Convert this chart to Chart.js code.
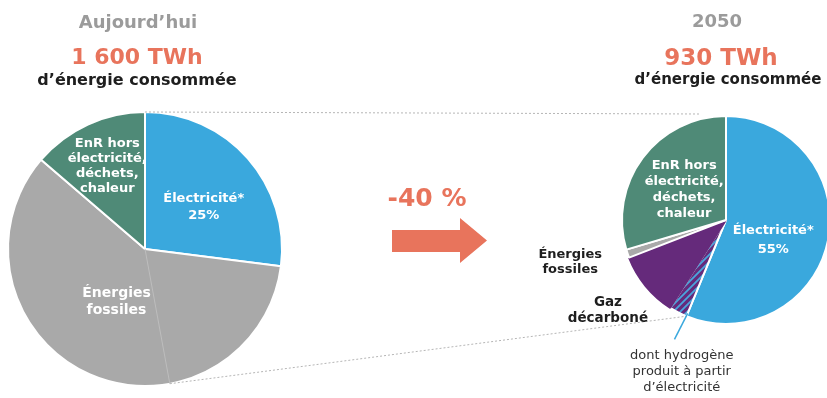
<!DOCTYPE html>
<html><head><meta charset="utf-8">
<script src="https://cdn.jsdelivr.net/npm/chart.js@4.4.1/dist/chart.umd.min.js"></script>
<style>
html,body{margin:0;padding:0;background:#fff;overflow:hidden;}
#wrap{position:relative;width:827px;height:398px;overflow:hidden;font-family:"DejaVu Sans",Verdana,sans-serif;}
canvas{position:absolute;}
.t{position:absolute;transform:translate(-50%,-50%);white-space:nowrap;text-align:center;font-weight:bold;line-height:1.15;}
</style></head><body>
<div id="wrap">
<canvas id="cL" width="290" height="290" style="left:0;top:104px"></canvas>
<canvas id="cR" width="220" height="220" style="left:616px;top:110px"></canvas>
<canvas id="over" width="827" height="398" style="left:0;top:0;pointer-events:none"></canvas>
<div class="t" id="tL1" style="left:138px;top:22px;font-size:18px;color:#9b9b9b">Aujourd’hui</div>
<div class="t" id="tL2" style="left:137px;top:57px;font-size:22px;color:#e8745c">1 600 TWh</div>
<div class="t" id="tL3" style="left:137px;top:80px;font-size:16px;color:#1e1e1e">d’énergie consommée</div>
<div class="t" id="tR1" style="left:717px;top:21px;font-size:18px;color:#9b9b9b">2050</div>
<div class="t" id="tR2" style="left:721px;top:57px;font-size:23px;color:#e8745c">930 TWh</div>
<div class="t" id="tR3" style="left:728px;top:80px;font-size:15px;color:#1e1e1e">d’énergie consommée</div>
<div class="t" id="chg" style="left:427px;top:198px;font-size:25px;color:#e8745c">-40 %</div>
</div>
<script>
// ---- data ----
const periods = ["Aujourd’hui", "2050"];
const totals = ["1 600 TWh", "930 TWh"];
const changeLabel = "-40 %";
const leftCategories = ["Électricité*", "Énergies fossiles", "EnR hors électricité, déchets, chaleur"];
const leftValues = [27, 59.3, 13.7];
const rightCategories = ["Électricité*", "dont hydrogène produit à partir d’électricité", "Gaz décarboné", "Énergies fossiles", "EnR hors électricité, déchets, chaleur"];
const rightValues = [56.2, 2.8, 10.1, 1.3, 29.6];
const shareLabels = { left: "25%", right: "55%" };

// ---- styles ----
const BLUE = "#3aa8dd", GREEN = "#4f8a77", GREY = "#a9a9a9", PURPLE = "#652a7b", SALMON = "#e8745c";
function hatch() {
  const s = 7;
  const c = document.createElement("canvas"); c.width = s; c.height = s;
  const g = c.getContext("2d");
  g.fillStyle = PURPLE; g.fillRect(0, 0, s, s);
  g.strokeStyle = "#4aa6dc"; g.lineWidth = 1.8;
  g.beginPath(); g.moveTo(-1, s + 1); g.lineTo(s + 1, -1); g.moveTo(-1, 1); g.lineTo(1, -1); g.moveTo(s - 1, s + 1); g.lineTo(s + 1, s - 1); g.stroke();
  return g.createPattern(c, "repeat");
}

function pieConfig(labels, values, colors, borders, radius) {
  return {
    type: "pie",
    data: { labels, datasets: [{ data: values, backgroundColor: colors, borderColor: borders, borderWidth: 2 }] },
    options: {
      responsive: false, animation: false, radius,
      layout: { padding: 0 },
      events: [],
      plugins: { legend: { display: false }, tooltip: { enabled: false }, title: { display: false } }
    }
  };
}

const chartL = new Chart(document.getElementById("cL"),
  pieConfig(leftCategories, leftValues, [BLUE, GREY, GREEN], "#ffffff", 137));
const chartR = new Chart(document.getElementById("cR"),
  pieConfig(rightCategories, rightValues, [BLUE, hatch(), PURPLE, GREY, GREEN],
    ["#ffffff", "#ffffff", PURPLE, "#ffffff", "#ffffff"], 104));

const wrap = document.getElementById("wrap");
const offL = { x: 0, y: 104 }, offR = { x: 616, y: 110 };
function polar(chart, off, i, rf, da) {
  const a = chart.getDatasetMeta(0).data[i];
  const ang = (a.startAngle + a.endAngle) / 2 + (da || 0) * Math.PI / 180;
  const r = a.outerRadius * rf;
  return { x: off.x + a.x + r * Math.cos(ang), y: off.y + a.y + r * Math.sin(ang) };
}
function edge(chart, off, i, which, rf) {
  const a = chart.getDatasetMeta(0).data[i];
  const ang = which === "start" ? a.startAngle : a.endAngle;
  const r = a.outerRadius * rf;
  return { x: off.x + a.x + r * Math.cos(ang), y: off.y + a.y + r * Math.sin(ang) };
}
function label(html, p, size, color, weight, lh) {
  const d = document.createElement("div");
  d.className = "t";
  d.innerHTML = html;
  d.style.left = p.x + "px"; d.style.top = p.y + "px";
  d.style.fontSize = size + "px"; d.style.color = color;
  d.style.fontWeight = weight; d.style.lineHeight = lh;
  wrap.appendChild(d);
}
// left pie labels
label("EnR hors<br>électricité,<br>déchets,<br>chaleur", polar(chartL, offL, 2, 0.67, 0.4), 13, "#fff", "bold", "15px");
label(leftCategories[0] + "<br>" + shareLabels.left, polar(chartL, offL, 0, 0.53, 5.4), 13, "#fff", "bold", "17px");
label("Énergies<br>fossiles", polar(chartL, offL, 1, 0.43, 5), 14, "#fff", "bold", "17px");
// right pie labels
label("EnR hors<br>électricité,<br>déchets,<br>chaleur", polar(chartR, offR, 4, 0.5, -0.3), 13, "#fff", "bold", "16px");
label(rightCategories[0] + "<br>" + shareLabels.right, polar(chartR, offR, 0, 0.49, 10.8), 13, "#fff", "bold", "19px");
label("Énergies<br>fossiles", polar(chartR, offR, 3, 1.55, 4), 13, "#1e1e1e", "bold", "15px");
label("Gaz<br>décarboné", polar(chartR, offR, 2, 1.42, 2.5), 13.5, "#1e1e1e", "bold", "16px");
label("dont hydrogène<br>produit à partir<br>d’électricité", polar(chartR, offR, 1, 1.51, -11), 13, "#333", "normal", "16px");

// overlay decorations: zoom connectors, hydrogen leader line, arrow
const zoomLeftFraction = 0.471;
const g = document.getElementById("over").getContext("2d");
const aL = chartL.getDatasetMeta(0).data[0];
const cLx = offL.x + aL.x, cLy = offL.y + aL.y, rL = aL.outerRadius;
const aR = chartR.getDatasetMeta(0).data[0];
const cRx = offR.x + aR.x, cRy = offR.y + aR.y, rR = aR.outerRadius;
const angZ = -Math.PI / 2 + zoomLeftFraction * 2 * Math.PI;
const pLbot = { x: cLx + rL * Math.cos(angZ), y: cLy + rL * Math.sin(angZ) };
const pRbot = edge(chartR, offR, 0, "end", 1);
// faint inner line
g.strokeStyle = "#bdbdbd"; g.lineWidth = 1;
g.beginPath(); g.moveTo(cLx, cLy); g.lineTo(pLbot.x, pLbot.y); g.stroke();
// connectors
g.strokeStyle = "#b5b5b5"; g.setLineDash([2, 2]); g.lineWidth = 1;
g.beginPath(); g.moveTo(cLx, cLy - rL); g.lineTo(cRx - 25, cRy - rR - 2); g.stroke();
g.beginPath(); g.moveTo(pLbot.x, pLbot.y); g.lineTo(pRbot.x, pRbot.y); g.stroke();
g.setLineDash([]);
// leader line
const l1 = edge(chartR, offR, 0, "end", 0.97), l2 = polar(chartR, offR, 1, 1.25, -4);
g.strokeStyle = BLUE; g.lineWidth = 1.5;
g.beginPath(); g.moveTo(l1.x, l1.y); g.lineTo(l2.x, l2.y); g.stroke();
// arrow
g.fillStyle = SALMON;
g.beginPath();
g.moveTo(392, 230); g.lineTo(460, 230); g.lineTo(460, 218); g.lineTo(487, 240.5);
g.lineTo(460, 263); g.lineTo(460, 252); g.lineTo(392, 252); g.closePath(); g.fill();
</script>
</body></html>
